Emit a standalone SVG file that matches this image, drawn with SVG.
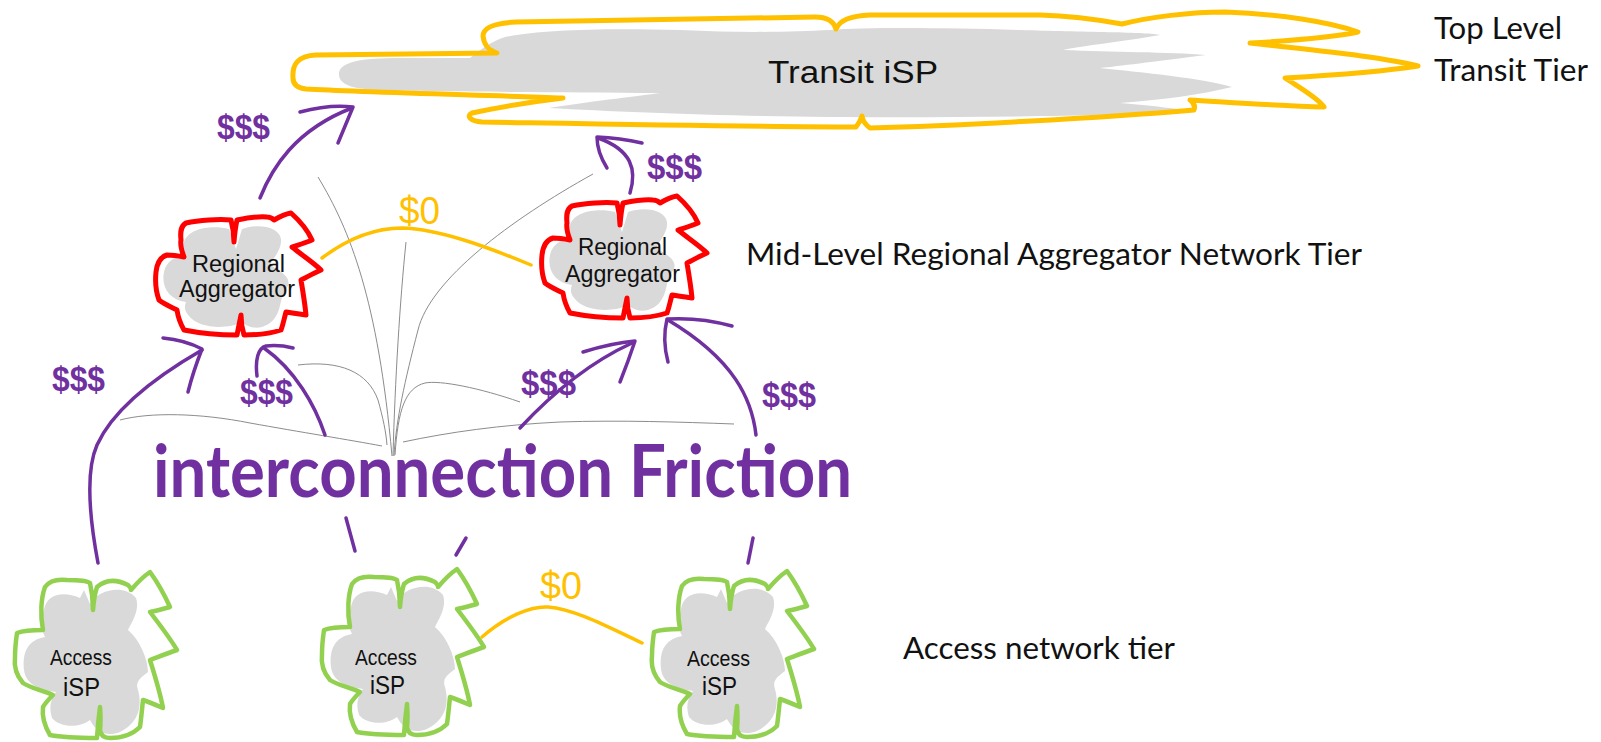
<svg xmlns="http://www.w3.org/2000/svg" xmlns:xlink="http://www.w3.org/1999/xlink" width="1601" height="742" viewBox="0 0 1601 742">
<style>
.tfill{fill:#D9D9D9;stroke:none}
.transit{fill:none;stroke:#FFC000;stroke-width:5;stroke-linejoin:round;stroke-linecap:round}
.agg{fill:none;stroke:#FF0000;stroke-width:5;stroke-linejoin:round;stroke-linecap:round}
.acc{fill:none;stroke:#92D050;stroke-width:4.5;stroke-linejoin:round;stroke-linecap:round}
.arrow{fill:none;stroke:#7030A0;stroke-width:3.5;stroke-linecap:round;stroke-linejoin:round}
.peer{fill:none;stroke:#FFC000;stroke-width:3.5;stroke-linecap:round}
.friction{fill:none;stroke:#8C8C8C;stroke-width:1}
.hand{font-family:"Liberation Sans",Arial,sans-serif;fill:#111}
.tier{font-family:Lato,"Noto Sans",sans-serif;fill:#111;font-size:31px}
.money{font-family:"Liberation Sans",Arial,sans-serif;font-weight:bold;fill:#7030A0;font-size:35px}
.zero{font-family:"Liberation Sans",Arial,sans-serif;fill:#FFC000;font-size:38px}
.big{font-family:Lato,"Noto Sans",sans-serif;font-weight:bold;fill:#7030A0;font-size:72px}
</style>
<defs>
<path id="aggFill" d="M570,225 C575,210 600,208 615,212 L622,232 L628,212 C645,206 665,210 667,222 C668,232 660,240 656,248 C668,255 680,262 672,272 C665,282 668,292 660,302 C650,314 635,312 628,305 C615,312 590,312 578,302 C570,295 570,290 572,285 C555,283 547,270 550,255 C552,245 560,240 570,238 C568,233 568,229 570,225 Z"/>
<path id="aggOutline" d="M553,238 C558,238 565,239 570,240 C567,232 566,228 567,223 C566,214 567,209 572,206 C585,203 605,202 617,203 Q620,214 620,225 Q621,212 623,203 C633,201 645,199 653,200 Q657,200 660,203 C665,200 671,197 677,196 C686,204 694,214 698,223 C691,226 684,228 678,230 C688,238 700,246 707,253 C700,256 693,260 687,263 C689,275 691,287 692,298 C685,297 678,296 672,295 C670,302 669,308 667,313 C655,317 642,318 630,318 Q627,308 627,298 Q625,308 623,318 C605,318 585,316 570,313 C566,306 564,300 563,293 C557,290 550,287 545,283 C542,275 541,265 542,255 C543,246 546,240 553,238 Z"/>
<path id="accFill" d="M44,610 C46,595 62,590 80,598 L84,590 L90,604 C100,588 125,585 136,598 C140,610 132,622 128,630 C140,640 148,660 148,672 C140,678 135,682 138,690 C142,705 140,722 120,732 C105,738 95,730 90,720 C80,728 60,728 52,718 C48,705 52,698 56,692 C40,690 26,685 24,670 C22,652 28,640 45,637 C40,628 42,618 44,610 Z"/>
<path id="accOutline" d="M43,630 C40,615 41,598 45,587 C50,580 58,579 67,580 C76,580 86,580 90,583 Q93,596 93,610 Q94,596 97,587 C105,580 116,579 128,585 Q131,588 131,590 C137,583 144,576 150,572 C158,583 165,596 170,607 C163,609 156,611 150,612 C160,625 170,638 177,650 C168,653 158,657 150,660 C155,676 160,692 163,708 C156,705 149,702 143,700 C142,710 141,720 140,727 C132,735 120,738 110,738 Q101,738 100,730 Q101,720 100,707 Q98,722 97,738 C80,738 60,737 50,735 C44,725 42,715 43,707 C46,702 50,698 53,695 C42,690 30,688 23,683 C16,675 14,665 15,657 C15,648 16,640 17,633 C25,630 35,630 43,630 Z"/>
</defs>

<g id="transit-isp">
<path class="tfill" d="M339,75 C338,62 360,58 400,58 L470,58 C480,50 490,42 505,37 C540,30 600,28 680,30 C740,33 790,32 830,30 C870,27 950,28 1020,30 C1080,32 1150,32 1160,35 C1120,42 1080,46 1063,50 C1110,52 1170,52 1206,55 C1150,62 1120,66 1100,68 C1160,74 1210,80 1232,87 C1200,95 1160,100 1120,103 C1150,106 1180,108 1190,112 C1100,116 950,118 830,117 C720,116 620,112 549,108 C600,100 640,96 660,93 C560,92 440,92 380,90 C350,89 340,84 339,75 Z"/>
<path class="transit" d="M293,78 C292,64 298,56 316,55 L497,53 C488,50 484,45 483,36 C483,27 495,23 516,22 L815,17 C828,17 834,22 836,29 C840,20 850,16 870,15 L1040,15 C1075,16 1100,20 1122,24 C1150,17 1190,12 1225,12 C1280,14 1330,22 1358,32 C1330,38 1285,41 1250,43 C1300,49 1380,56 1418,66 C1380,72 1320,76 1285,78 C1300,88 1318,98 1324,107 C1280,106 1225,102 1190,100 Q1196,104 1194,110 C1100,118 950,126 870,128 Q863,123 862,116 Q860,122 856,127 C760,127 600,124 482,122 C470,121 466,116 472,113 C495,108 530,102 563,98 C480,95 360,92 306,89 C297,88 293,84 293,78 Z"/>
<text class="hand" x="768" y="83" font-size="31" textLength="170" lengthAdjust="spacingAndGlyphs">Transit iSP</text>
</g>

<g id="agg-left">
<use href="#aggFill" class="tfill" transform="translate(-386,17)"/>
<use href="#aggOutline" class="agg" transform="translate(-386,17)"/>
<text class="hand" x="192" y="272" font-size="23" textLength="93" lengthAdjust="spacingAndGlyphs">Regional</text>
<text class="hand" x="179" y="297" font-size="23" textLength="116" lengthAdjust="spacingAndGlyphs">Aggregator</text>
</g>

<g id="agg-right">
<use href="#aggFill" class="tfill"/>
<use href="#aggOutline" class="agg"/>
<text class="hand" x="578" y="255" font-size="23" textLength="89" lengthAdjust="spacingAndGlyphs">Regional</text>
<text class="hand" x="565" y="282" font-size="23" textLength="115" lengthAdjust="spacingAndGlyphs">Aggregator</text>
</g>

<g id="access-left">
<use href="#accFill" class="tfill"/>
<use href="#accOutline" class="acc"/>
<text class="hand" x="50" y="665" font-size="22" textLength="62" lengthAdjust="spacingAndGlyphs">Access</text>
<text class="hand" x="63" y="696" font-size="26" textLength="37" lengthAdjust="spacingAndGlyphs">iSP</text>
</g>

<g id="access-mid">
<use href="#accFill" class="tfill" transform="translate(307,-3)"/>
<use href="#accOutline" class="acc" transform="translate(307,-3)"/>
<text class="hand" x="355" y="665" font-size="22" textLength="62" lengthAdjust="spacingAndGlyphs">Access</text>
<text class="hand" x="370" y="694" font-size="26" textLength="35" lengthAdjust="spacingAndGlyphs">iSP</text>
</g>

<g id="access-right">
<use href="#accFill" class="tfill" transform="translate(637,-1)"/>
<use href="#accOutline" class="acc" transform="translate(637,-1)"/>
<text class="hand" x="687" y="666" font-size="22" textLength="63" lengthAdjust="spacingAndGlyphs">Access</text>
<text class="hand" x="702" y="695" font-size="26" textLength="35" lengthAdjust="spacingAndGlyphs">iSP</text>
</g>

<g id="connectors">
<g id="friction-lines">
<path class="friction" d="M120,420 C150,412 200,413 250,423 C300,432 350,440 382,446"/>
<path class="friction" d="M298,365 C340,360 368,372 378,400 C383,418 386,432 387,445"/>
<path class="friction" d="M318,177 C350,230 378,300 392,456"/>
<path class="friction" d="M406,242 C400,300 395,380 393,456"/>
<path class="friction" d="M593,174 C510,220 430,280 418,330 C405,380 396,420 394,456"/>
<path class="friction" d="M520,402 C480,388 440,380 425,383 C405,388 398,410 395,455"/>
<path class="friction" d="M403,442 C450,432 500,425 560,422 C620,420 680,422 734,424"/>
</g>
<path class="peer" d="M322,258 C350,237 378,228 402,228 C440,229 490,248 531,265"/>
<path class="peer" d="M482,637 C505,617 530,606 548,607 C575,609 610,628 642,643"/>
<path class="arrow" d="M260,198 C272,168 295,130 352,108"/>
<path class="arrow" d="M300,112 Q330,104 353,107 Q346,124 338,143"/>
<path class="arrow" d="M630,193 C637,170 632,150 598,138"/>
<path class="arrow" d="M607,168 Q597,152 597,137 Q620,138 642,143"/>
<path class="arrow" d="M98,563 C88,510 86,470 97,445 C112,412 150,380 202,350"/>
<path class="arrow" d="M163,338 Q185,340 202,349 Q193,372 188,392"/>
<path class="arrow" d="M325,435 C315,405 295,370 264,348"/>
<path class="arrow" d="M346,518 L355,551"/>
<path class="arrow" d="M257,376 C255,360 258,348 266,346 C275,345 285,346 293,348"/>
<path class="arrow" d="M520,428 C560,385 595,360 632,343"/>
<path class="arrow" d="M466,538 L456,555"/>
<path class="arrow" d="M583,352 Q612,343 635,341 Q628,362 620,382"/>
<path class="arrow" d="M756,435 C752,400 735,360 668,320"/>
<path class="arrow" d="M753,538 L748,563"/>
<path class="arrow" d="M732,326 Q700,317 667,319 Q662,340 668,362"/>
</g>

<g id="labels">
<text class="money" x="217" y="139" textLength="53" lengthAdjust="spacingAndGlyphs">$$$</text>
<text class="money" x="647" y="179" textLength="55" lengthAdjust="spacingAndGlyphs">$$$</text>
<text class="money" x="52" y="391" textLength="53" lengthAdjust="spacingAndGlyphs">$$$</text>
<text class="money" x="240" y="404" textLength="53" lengthAdjust="spacingAndGlyphs">$$$</text>
<text class="money" x="521" y="395" textLength="55" lengthAdjust="spacingAndGlyphs">$$$</text>
<text class="money" x="762" y="407" textLength="54" lengthAdjust="spacingAndGlyphs">$$$</text>
<text class="zero" x="399" y="224" textLength="41" lengthAdjust="spacingAndGlyphs">$0</text>
<text class="zero" x="540" y="599" textLength="42" lengthAdjust="spacingAndGlyphs">$0</text>
<text class="big" x="153" y="497" textLength="699" lengthAdjust="spacingAndGlyphs">interconnection Friction</text>
<text class="tier" x="1434" y="39" textLength="128" lengthAdjust="spacingAndGlyphs">Top Level</text>
<text class="tier" x="1434" y="81" textLength="154" lengthAdjust="spacingAndGlyphs">Transit Tier</text>
<text class="tier" x="746" y="265" textLength="616" lengthAdjust="spacingAndGlyphs">Mid-Level Regional Aggregator Network Tier</text>
<text class="tier" x="903" y="659" textLength="272" lengthAdjust="spacingAndGlyphs">Access network tier</text>
</g>
</svg>
